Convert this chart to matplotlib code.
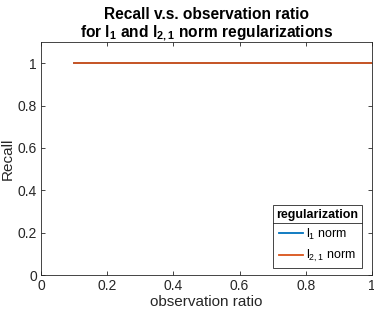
import numpy as np
import matplotlib
matplotlib.use("Agg")
import matplotlib.pyplot as plt
from matplotlib.lines import Line2D

plt.rcParams['font.family'] = ['Liberation Sans', 'DejaVu Sans']
plt.rcParams['mathtext.fontset'] = 'custom'
plt.rcParams['mathtext.rm'] = 'Liberation Sans'

# data
obs_ratio = [0.1, 0.2, 0.3, 0.4, 0.5, 0.6, 0.7, 0.8, 0.9, 1.0]
recall_l1 = [1, 1, 1, 1, 1, 1, 1, 1, 1, 1]
recall_l21 = [1, 1, 1, 1, 1, 1, 1, 1, 1, 1]
xticks = [0, 0.2, 0.4, 0.6, 0.8, 1]
xtick_labels = ['0', '0.2', '0.4', '0.6', '0.8', '1']
yticks = [0, 0.2, 0.4, 0.6, 0.8, 1]
ytick_labels = ['0', '0.2', '0.4', '0.6', '0.8', '1']

edge = '#262626'
fig = plt.figure(figsize=(3.74, 3.13), dpi=100)
ax = fig.add_axes([0.1096, 0.1214, 0.8851, 0.7444])

ax.plot(obs_ratio, recall_l1, color='#0072BD', lw=1.3, label=r'$\mathregular{l_1}$ norm')
ax.plot(obs_ratio, recall_l21, color='#D95319', lw=1.3, label=r'$\mathregular{l_{2,1}}$ norm')

ax.set_xlim(0, 1)
ax.set_ylim(0, 1.1)
ax.set_xticks(xticks)
ax.set_xticklabels(xtick_labels)
ax.set_yticks(yticks)
ax.set_yticklabels(ytick_labels)
ax.tick_params(direction='in', top=True, right=True, length=3, width=0.6,
               colors=edge, labelsize=10, pad=3)
for s in ax.spines.values():
    s.set_color(edge)
    s.set_linewidth(0.6)

ax.set_xlabel('observation ratio', fontsize=11, color=edge, labelpad=1)
ax.set_ylabel('Recall', fontsize=11, color=edge, labelpad=2)
ax.set_title('Recall v.s. observation ratio\nfor $\\mathregular{l_1}$ and $\\mathregular{l_{2,1}}$ norm regularizations',
             fontsize=11.2, fontweight='bold', color='black', pad=4, linespacing=1.1)

leg = ax.legend(title='regularization', loc='lower right',
                bbox_to_anchor=(0.970, 0.030), borderaxespad=0, fontsize=9,
                title_fontproperties={'weight': 'bold', 'size': 9},
                frameon=True, fancybox=False, edgecolor=edge, framealpha=1,
                handlelength=1.9, handletextpad=0.25,
                labelspacing=0.5, borderpad=0.3)
leg.get_frame().set_linewidth(0.6)

# separator under legend title
fig.canvas.draw()
inv = fig.transFigure.inverted()
fb = leg.get_frame().get_window_extent()
tb = leg.get_title().get_window_extent()
ysep = tb.y0 - 2
(x0, y0) = inv.transform((fb.x0, ysep))
(x1, _) = inv.transform((fb.x1, ysep))
fig.add_artist(Line2D([x0, x1], [y0, y0], transform=fig.transFigure,
                      color=edge, lw=0.6))

fig.savefig('out.png', dpi=100)
